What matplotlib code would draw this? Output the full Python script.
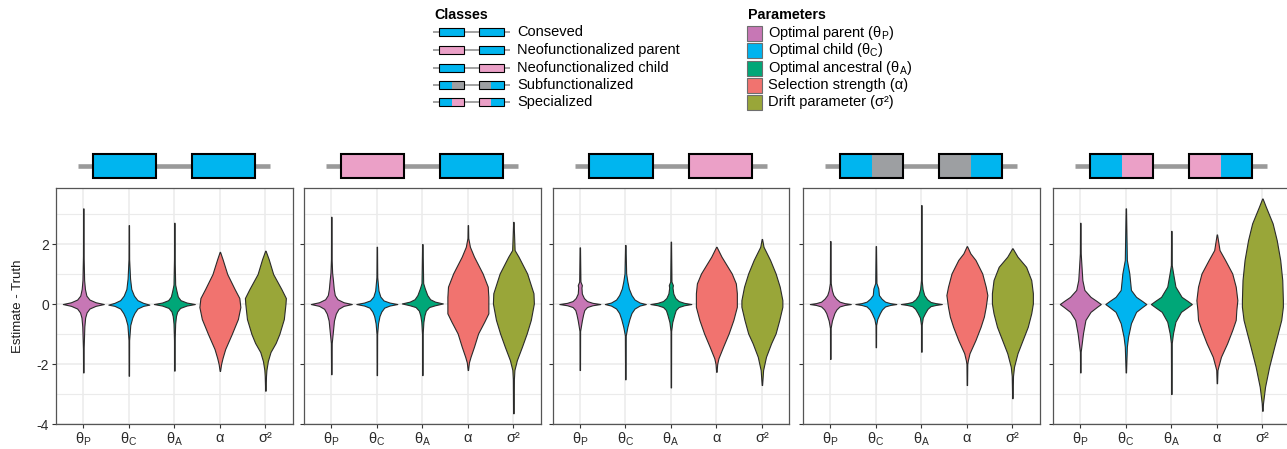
import matplotlib
matplotlib.use("Agg")
import matplotlib.pyplot as plt
from matplotlib.patches import Rectangle

plt.rcParams['font.family'] = ['Liberation Sans', 'DejaVu Sans']
plt.rcParams['mathtext.default'] = 'regular'
plt.rcParams['axes.unicode_minus'] = False

# ---- data ----
param_ticks = ['$θ_P$', '$θ_C$', '$θ_A$', 'α', 'σ²']
param_names = ['Optimal parent ($θ_P$)', 'Optimal child ($θ_C$)', 'Optimal ancestral ($θ_A$)',
               'Selection strength (α)', 'Drift parameter (σ²)']
param_colors = ['#C777B5', '#00B4EF', '#00A778', '#F1736F', '#99A639']

class_names = ['Conseved', 'Neofunctionalized parent', 'Neofunctionalized child',
               'Subfunctionalized', 'Specialized']
BLUE, PINK, GREY = '#00B5EF', '#EBA0C7', '#9D9FA2'
# gene colours: (gene1 left, gene1 right, gene2 left, gene2 right)
class_genes = [(BLUE, BLUE, BLUE, BLUE),
               (PINK, PINK, BLUE, BLUE),
               (BLUE, BLUE, PINK, PINK),
               (BLUE, GREY, GREY, BLUE),
               (BLUE, PINK, PINK, BLUE)]

# violin density profiles (estimate - truth, relative width)
conserved = [
    ([-2.28, -1.5, -0.75, -0.45, -0.28, -0.15, -0.06, 0.0, 0.06, 0.15, 0.28, 0.5, 0.8, 1.6, 3.19],
     [0.01, 0.015, 0.05, 0.09, 0.16, 0.3, 0.6, 1.0, 0.6, 0.3, 0.15, 0.08, 0.04, 0.015, 0.01]),
    ([-2.39, -1.2, -0.7, -0.45, -0.3, -0.15, -0.06, -0.02, 0.04, 0.13, 0.28, 0.5, 0.85, 1.5, 2.63],
     [0.01, 0.015, 0.07, 0.17, 0.27, 0.42, 0.7, 1.0, 0.7, 0.42, 0.25, 0.12, 0.06, 0.015, 0.01]),
    ([-2.22, -1.2, -0.65, -0.4, -0.25, -0.13, -0.05, 0.0, 0.05, 0.13, 0.25, 0.45, 0.65, 1.5, 2.71],
     [0.01, 0.015, 0.04, 0.08, 0.14, 0.28, 0.6, 1.0, 0.6, 0.3, 0.17, 0.1, 0.04, 0.015, 0.01]),
    ([-2.23, -2.0, -1.8, -1.5, -1.0, -0.5, -0.1, 0.2, 0.5, 1.0, 1.5, 1.74],
     [0.01, 0.06, 0.13, 0.26, 0.58, 0.88, 1.0, 0.95, 0.72, 0.36, 0.13, 0.01]),
    ([-2.89, -2.4, -2.2, -1.9, -1.6, -1.3, -1.0, -0.5, 0.0, 0.2, 0.5, 1.0, 1.5, 1.78],
     [0.01, 0.03, 0.05, 0.12, 0.25, 0.5, 0.68, 0.9, 0.98, 1.0, 0.78, 0.38, 0.16, 0.01]),
]
neo_parent = [
    ([-2.34, -1.3, -0.9, -0.55, -0.32, -0.16, -0.06, 0.0, 0.06, 0.16, 0.3, 0.5, 0.8, 1.05, 1.5, 2.91],
     [0.01, 0.02, 0.08, 0.13, 0.22, 0.35, 0.6, 1.0, 0.6, 0.3, 0.17, 0.12, 0.08, 0.04, 0.015, 0.01]),
    ([-2.37, -1.0, -0.64, -0.4, -0.25, -0.12, -0.05, 0.0, 0.05, 0.12, 0.25, 0.45, 0.9, 1.91],
     [0.01, 0.015, 0.06, 0.13, 0.22, 0.36, 0.62, 1.0, 0.62, 0.33, 0.17, 0.08, 0.02, 0.01]),
    ([-2.37, -1.0, -0.6, -0.38, -0.22, -0.1, -0.04, 0.02, 0.08, 0.16, 0.3, 0.52, 0.7, 2.0],
     [0.01, 0.015, 0.05, 0.1, 0.17, 0.33, 0.62, 1.0, 0.62, 0.38, 0.24, 0.12, 0.04, 0.01]),
    ([-2.2, -1.95, -1.76, -1.42, -0.98, -0.59, -0.31, 0.0, 0.24, 0.58, 1.02, 1.58, 1.91, 2.2, 2.63],
     [0.01, 0.05, 0.13, 0.3, 0.5, 0.8, 1.0, 1.0, 1.0, 0.97, 0.72, 0.3, 0.1, 0.02, 0.01]),
    ([-3.64, -2.5, -2.2, -1.87, -1.42, -0.98, -0.53, 0.02, 0.36, 1.02, 1.58, 1.8, 2.74],
     [0.015, 0.025, 0.05, 0.17, 0.42, 0.65, 0.85, 1.0, 0.98, 0.67, 0.25, 0.06, 0.01]),
]
neo_child = [
    ([-2.2, -0.9, -0.55, -0.35, -0.2, -0.1, -0.04, 0.0, 0.04, 0.1, 0.2, 0.35, 0.55, 0.63, 0.75, 1.89],
     [0.01, 0.015, 0.1, 0.16, 0.22, 0.35, 0.62, 1.0, 0.62, 0.35, 0.2, 0.1, 0.08, 0.1, 0.03, 0.01]),
    ([-2.51, -1.05, -0.76, -0.5, -0.3, -0.15, -0.05, 0.0, 0.05, 0.15, 0.3, 0.52, 0.75, 1.02, 1.97],
     [0.01, 0.02, 0.1, 0.2, 0.3, 0.45, 0.7, 1.0, 0.7, 0.45, 0.3, 0.17, 0.1, 0.04, 0.01]),
    ([-2.78, -0.9, -0.6, -0.35, -0.2, -0.1, -0.04, 0.0, 0.04, 0.1, 0.2, 0.35, 0.55, 0.63, 0.75, 2.08],
     [0.01, 0.015, 0.07, 0.17, 0.24, 0.38, 0.65, 1.0, 0.65, 0.38, 0.22, 0.12, 0.08, 0.1, 0.03, 0.01]),
    ([-2.26, -2.0, -1.81, -1.42, -0.98, -0.53, -0.09, 0.36, 0.69, 1.02, 1.58, 1.91],
     [0.01, 0.04, 0.1, 0.33, 0.6, 0.83, 1.0, 1.0, 0.95, 0.75, 0.25, 0.01]),
    ([-2.7, -2.2, -1.76, -1.31, -0.98, -0.53, -0.09, 0.13, 0.58, 1.02, 1.47, 1.91, 2.17],
     [0.01, 0.06, 0.2, 0.45, 0.67, 0.85, 1.0, 1.0, 0.87, 0.67, 0.4, 0.08, 0.01]),
]
subfunc = [
    ([-1.83, -0.8, -0.55, -0.3, -0.18, -0.08, -0.03, 0.0, 0.03, 0.08, 0.18, 0.3, 0.45, 0.7, 2.1],
     [0.01, 0.015, 0.08, 0.2, 0.3, 0.45, 0.7, 1.0, 0.7, 0.45, 0.28, 0.15, 0.08, 0.02, 0.01]),
    ([-1.44, -0.7, -0.5, -0.3, -0.18, -0.08, -0.03, 0.0, 0.03, 0.08, 0.18, 0.3, 0.52, 0.7, 1.93],
     [0.01, 0.015, 0.07, 0.2, 0.3, 0.45, 0.7, 1.0, 0.7, 0.45, 0.28, 0.15, 0.12, 0.03, 0.01]),
    ([-1.59, -0.7, -0.45, -0.3, -0.16, -0.07, -0.03, 0.0, 0.03, 0.07, 0.16, 0.3, 0.5, 0.8, 3.3],
     [0.01, 0.015, 0.07, 0.18, 0.3, 0.45, 0.7, 1.0, 0.7, 0.45, 0.28, 0.14, 0.06, 0.015, 0.01]),
    ([-2.7, -2.0, -1.87, -1.64, -1.2, -0.76, -0.42, -0.1, 0.3, 0.58, 1.02, 1.47, 1.69, 1.93],
     [0.01, 0.02, 0.05, 0.13, 0.42, 0.67, 0.83, 0.92, 1.0, 0.92, 0.75, 0.42, 0.17, 0.01]),
    ([-3.14, -2.4, -2.09, -1.64, -1.2, -0.76, -0.31, 0.02, 0.36, 0.8, 1.24, 1.58, 1.86],
     [0.01, 0.03, 0.08, 0.25, 0.5, 0.75, 0.92, 1.0, 1.0, 0.92, 0.67, 0.25, 0.01]),
]
special = [
    ([-2.28, -1.6, -1.42, -0.98, -0.53, -0.26, -0.1, 0.0, 0.1, 0.24, 0.47, 0.8, 1.24, 1.69, 2.71],
     [0.01, 0.015, 0.05, 0.13, 0.25, 0.5, 0.8, 1.0, 0.8, 0.5, 0.2, 0.1, 0.06, 0.02, 0.01]),
    ([-2.28, -1.42, -1.09, -0.64, -0.26, -0.1, 0.0, 0.1, 0.24, 0.47, 1.02, 1.47, 3.19],
     [0.01, 0.05, 0.11, 0.25, 0.5, 0.8, 1.0, 0.8, 0.5, 0.25, 0.17, 0.05, 0.01]),
    ([-3.0, -1.3, -0.98, -0.59, -0.26, -0.1, 0.0, 0.1, 0.24, 0.58, 0.97, 1.3, 2.44],
     [0.01, 0.02, 0.08, 0.2, 0.47, 0.8, 1.0, 0.8, 0.5, 0.2, 0.1, 0.02, 0.01]),
    ([-2.64, -2.2, -2.09, -1.76, -1.31, -0.87, -0.53, -0.2, 0.13, 0.58, 1.02, 1.47, 1.8, 2.32],
     [0.01, 0.03, 0.07, 0.2, 0.5, 0.75, 0.92, 0.95, 1.0, 0.92, 0.75, 0.4, 0.13, 0.01]),
    ([-3.56, -3.31, -2.76, -2.09, -1.42, -0.98, -0.53, -0.09, 0.13, 0.8, 1.47, 2.13, 2.69, 3.24, 3.52],
     [0.01, 0.03, 0.13, 0.33, 0.58, 0.75, 0.92, 1.0, 1.0, 0.97, 0.87, 0.7, 0.5, 0.17, 0.01]),
]
panels = [conserved, neo_parent, neo_child, subfunc, special]

# ---- layout (pixels) ----
W, H = 1287, 449
panel_left = [56, 304, 552.5, 803, 1053]
panel_w, panel_top, panel_bottom = 236.7, 188, 424


def draw_genes(ax, x, y, length, height, cols, line_lw, edge_lw):
    ax.plot([x, x + length], [y, y], color='#9A9A9A', lw=line_lw, solid_capstyle='butt', zorder=1)
    for off, c1, c2 in [(0.078, cols[0], cols[1]), (0.594, cols[2], cols[3])]:
        bx, bw = x + off * length, 0.33 * length
        ax.add_patch(Rectangle((bx, y - height / 2), bw / 2, height, fc=c1, ec='none', zorder=2))
        ax.add_patch(Rectangle((bx + bw / 2, y - height / 2), bw / 2, height, fc=c2, ec='none', zorder=2))
        ax.add_patch(Rectangle((bx, y - height / 2), bw, height, fill=False, ec='black', lw=edge_lw, zorder=3))


fig = plt.figure(figsize=(W / 100, H / 100), dpi=100)

for k, prof in enumerate(panels):
    ax = fig.add_axes([panel_left[k] / W, (H - panel_bottom) / H, panel_w / W,
                       (panel_bottom - panel_top) / H])
    stats = [dict(coords=c, vals=v, mean=0.0, median=0.0, min=c[0], max=c[-1]) for c, v in prof]
    parts = ax.violin(stats, positions=range(1, 6), widths=0.9, showextrema=False)
    for body, col in zip(parts['bodies'], param_colors):
        body.set_facecolor(col)
        body.set_edgecolor('#2B2B2B')
        body.set_alpha(1)
        body.set_linewidth(0.8)
    ax.set_xlim(0.4, 5.6)
    ax.set_ylim(-4, 3.87)
    ax.set_xticks(range(1, 6))
    ax.set_xticklabels(param_ticks, fontsize=10.5)
    ax.set_yticks([-4, -2, 0, 2])
    ax.set_yticks([-3, -1, 1, 3], minor=True)
    ax.set_axisbelow(True)
    ax.grid(which='major', color='#EBEBEB', lw=1.1)
    ax.grid(which='minor', axis='y', color='#EBEBEB', lw=0.8)
    ax.tick_params(which='major', length=3, width=0.8, color='#333333',
                   labelsize=10, labelcolor='#2B2B2B', pad=2)
    ax.tick_params(axis='x', labelsize=10.5)
    ax.tick_params(which='minor', length=0)
    for s in ax.spines.values():
        s.set_color('#555555')
        s.set_linewidth(0.9)
    if k == 0:
        ax.set_ylabel('Estimate - Truth', fontsize=9.5, color='#1A1A1A')
        ax.yaxis.set_label_coords(-0.135, 0.5)
    else:
        ax.set_yticklabels([])

# overlay in pixel coordinates for headers and legends
ov = fig.add_axes([0, 0, 1, 1])
ov.set_xlim(0, W)
ov.set_ylim(H, 0)
ov.axis('off')
ov.patch.set_alpha(0)

for k, genes in enumerate(class_genes):
    draw_genes(ov, panel_left[k] + 22, 166, 192, 24, genes, 3.3, 1.5)

ov.text(434, 15, 'Classes', fontsize=10.3, fontweight='bold', va='center', ha='left')
for i, (name, genes) in enumerate(zip(class_names, class_genes)):
    y = [32, 50, 67.5, 85, 102][i]
    draw_genes(ov, 433, y, 77, 8, genes, 1.3, 0.8)
    ov.text(517, y, name, fontsize=10.5, va='center', ha='left')

ov.text(748, 15, 'Parameters', fontsize=10.3, fontweight='bold', va='center', ha='left')
for i, (name, col) in enumerate(zip(param_names, param_colors)):
    y = [33, 50, 68, 85, 102][i]
    ov.add_patch(Rectangle((747, y - 7.5), 15, 15, fc=col, ec='#6E6E6E', lw=0.8))
    ov.text(768, y, name, fontsize=10.5, va='center', ha='left')

fig.savefig('out.png', dpi=100)
